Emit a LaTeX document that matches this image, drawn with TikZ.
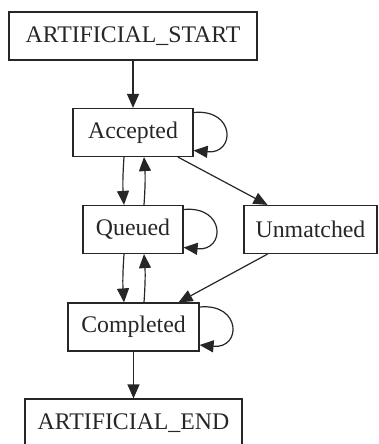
\documentclass[tikz,border=0pt]{standalone}
\usepackage{fontspec}
\setmainfont{Liberation Serif}
\usetikzlibrary{arrows.meta}
\begin{document}
\begin{tikzpicture}[x=1pt,y=-1pt,
  box/.style={draw=black!85,line width=1.2pt,minimum height=48pt,inner sep=0pt,font=\fontsize{23.8}{25}\selectfont,text=black!85},
  edge/.style={draw=black!85,line width=1.2pt,-{Triangle[length=14pt,width=12pt]}}]
\useasboundingbox (0,0) rectangle (378,444);
\node[box,minimum width=248pt] (start) at (133,36) {ARTIFICIAL\_START};
\node[box,minimum width=120pt] (acc) at (133,132.5) {Accepted};
\node[box,minimum width=100pt] (que) at (133,229.5) {Queued};
\node[box,minimum width=133pt] (unm) at (310.5,229.5) {Unmatched};
\node[box,minimum width=131pt] (comp) at (133.5,327) {Completed};
\node[box,minimum width=217pt] (end) at (133.5,423) {ARTIFICIAL\_END};
\draw[edge] (start.south) -- (acc.north);
\draw[edge] ([xshift=-9pt]acc.south) to[bend right=4] ([xshift=-9pt]que.north);
\draw[edge] ([xshift=11pt]que.north) to[bend right=4] ([xshift=11pt]acc.south);
\draw[edge] ([xshift=45pt]acc.south) -- ([xshift=-43pt]unm.north);
\draw[edge] ([xshift=-43pt]unm.south) -- ([xshift=45pt]comp.north);
\draw[edge] ([xshift=-9pt]que.south) to[bend right=4] ([xshift=-9.5pt]comp.north);
\draw[edge] ([xshift=10.5pt]comp.north) to[bend right=4] ([xshift=11pt]que.south);
\draw[edge] (comp.south) -- (end.north);
\draw[edge] ([yshift=20pt]acc.east) .. controls ([shift={(42pt,24pt)}]acc.east) and ([shift={(42pt,-22pt)}]acc.east) .. ([yshift=-18pt]acc.east);
\draw[edge] ([yshift=20pt]que.east) .. controls ([shift={(42pt,24pt)}]que.east) and ([shift={(42pt,-22pt)}]que.east) .. ([yshift=-18pt]que.east);
\draw[edge] ([yshift=20pt]comp.east) .. controls ([shift={(42pt,24pt)}]comp.east) and ([shift={(42pt,-22pt)}]comp.east) .. ([yshift=-18pt]comp.east);
\end{tikzpicture}
\end{document}
